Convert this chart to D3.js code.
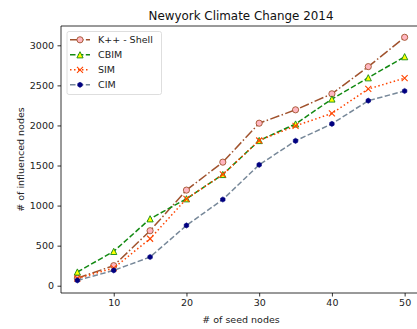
<!DOCTYPE html>
<html>
<head>
<meta charset="utf-8">
<script src="https://cdn.jsdelivr.net/npm/d3@7"></script>
<style>
  html, body { margin: 0; padding: 0; background: #fff; }
  svg { display: block; font-family: "DejaVu Sans", sans-serif; }
</style>
</head>
<body>
<svg id="chart" width="417" height="329"></svg>
<script>
// Seed-set sizes on the x axis
const seeds = [5, 10, 15, 20, 25, 30, 35, 40, 45, 50];

// Influenced nodes per method
const kppShell = [95, 250, 686, 1193, 1542, 2028, 2195, 2395, 2734, 3100];
const cbim     = [171, 428, 835, 1085, 1388, 1812, 2018, 2330, 2595, 2858];
const sim      = [90, 220, 586, 1085, 1388, 1812, 1995, 2150, 2455, 2590];
const cim      = [66, 191, 358, 752, 1076, 1509, 1808, 2020, 2309, 2430];

const seriesNames = ["K++ - Shell", "CBIM", "SIM", "CIM"];

const xTicks = [10, 20, 30, 40, 50];
const yTicks = [0, 500, 1000, 1500, 2000, 2500, 3000];

const styles = [
  { line: "#a0522d", dash: "9.6,2.4,1.5,2.4", marker: "circle", face: "#ffb6c1", edge: "#a0522d" },
  { line: "#138a13", dash: "5.5,2.4", marker: "triangle", face: "#ffff00", edge: "#138a13" },
  { line: "#ff4500", dash: "1.5,2.5", marker: "x", face: "none", edge: "#ff4500" },
  { line: "#778899", dash: "5.5,2.4", marker: "hex", face: "#000080", edge: "#000080" }
];
const values = [kppShell, cbim, sim, cim];

const svg = d3.select("#chart");
const plotLeft = 61, plotRight = 421, plotTop = 26, plotBottom = 293;
const fontSize = "9.5px";

const x = d3.scaleLinear().domain([2.75, 52.25]).range([plotLeft, plotRight]);
const y = d3.scaleLinear().domain([-91, 3241]).range([plotBottom, plotTop]);

// Axes
const gx = svg.append("g").attr("transform", `translate(0,${plotBottom})`)
  .call(d3.axisBottom(x).tickValues(xTicks).tickSize(3.5).tickPadding(3).tickFormat(d3.format("d")));
const gy = svg.append("g").attr("transform", `translate(${plotLeft},0)`)
  .call(d3.axisLeft(y).tickValues(yTicks).tickSize(3.5).tickPadding(3.5).tickFormat(d3.format("d")));
[gx, gy].forEach(g => {
  g.select(".domain").remove();
  g.selectAll("line").attr("stroke", "#000").attr("stroke-width", 0.8);
  g.selectAll("text").attr("fill", "#222").style("font-size", fontSize).style("font-family", "DejaVu Sans");
});

// Frame (right edge falls outside the view)
svg.append("path")
  .attr("d", `M${plotRight},${plotTop}H${plotLeft}V${plotBottom}H${plotRight}`)
  .attr("fill", "none").attr("stroke", "#000").attr("stroke-width", 0.8);

// Title and axis labels
svg.append("text").attr("x", (plotLeft + plotRight) / 2).attr("y", 19.5)
  .attr("text-anchor", "middle").attr("fill", "#111")
  .style("font-size", "11.9px").text("Newyork Climate Change 2014");
svg.append("text").attr("x", (plotLeft + plotRight) / 2).attr("y", 323)
  .attr("text-anchor", "middle").attr("fill", "#222")
  .style("font-size", fontSize).text("# of seed nodes");
svg.append("text").attr("transform", `translate(23.5,${(plotTop + plotBottom) / 2}) rotate(-90)`)
  .attr("text-anchor", "middle").attr("fill", "#222")
  .style("font-size", fontSize).text("# of influenced nodes");

function drawMarker(g, kind, st, cx, cy) {
  if (kind === "circle") {
    g.append("circle").attr("cx", cx).attr("cy", cy).attr("r", 3.1)
      .attr("fill", st.face).attr("stroke", st.edge).attr("stroke-width", 0.9);
  } else if (kind === "triangle") {
    const r = 3.1;
    g.append("path")
      .attr("d", `M${cx},${cy - r}L${cx + r},${cy + r}L${cx - r},${cy + r}Z`)
      .attr("fill", st.face).attr("stroke", st.edge).attr("stroke-width", 0.9);
  } else if (kind === "x") {
    const r = 3;
    g.append("path")
      .attr("d", `M${cx - r},${cy - r}L${cx + r},${cy + r}M${cx - r},${cy + r}L${cx + r},${cy - r}`)
      .attr("stroke", st.edge).attr("stroke-width", 1.1).attr("fill", "none");
  } else {
    const r = 2.6;
    const pts = d3.range(6).map(i => {
      const a = Math.PI / 6 + i * Math.PI / 3;
      return [cx + r * Math.cos(a), cy + r * Math.sin(a)];
    });
    g.append("path").attr("d", "M" + pts.join("L") + "Z")
      .attr("fill", st.face).attr("stroke", st.edge).attr("stroke-width", 0.6);
  }
}

const plot = svg.append("g");
const line = d3.line().x((d, i) => x(seeds[i])).y(d => y(d));

values.forEach((vals, k) => {
  const st = styles[k];
  plot.append("path").datum(vals).attr("d", line)
    .attr("fill", "none").attr("stroke", st.line).attr("stroke-width", 1.5)
    .attr("stroke-dasharray", st.dash);
  const mg = plot.append("g");
  vals.forEach((v, i) => drawMarker(mg, st.marker, st, x(seeds[i]), y(v)));
});

// Legend
const lg = svg.append("g");
lg.append("rect").attr("x", 67).attr("y", 31.5).attr("width", 94.5).attr("height", 63)
  .attr("rx", 2).attr("fill", "#fff").attr("fill-opacity", 0.8)
  .attr("stroke", "#d6d6d6").attr("stroke-width", 0.8);
seriesNames.forEach((name, k) => {
  const st = styles[k];
  const ry = 39.8 + k * 15;
  lg.append("line").attr("x1", 70).attr("x2", 90).attr("y1", ry).attr("y2", ry)
    .attr("stroke", st.line).attr("stroke-width", 1.5).attr("stroke-dasharray", st.dash);
  drawMarker(lg, st.marker, st, 80, ry);
  lg.append("text").attr("x", 98).attr("y", ry + 3.4).attr("fill", "#222")
    .style("font-size", fontSize).text(name);
});
</script>
</body>
</html>
